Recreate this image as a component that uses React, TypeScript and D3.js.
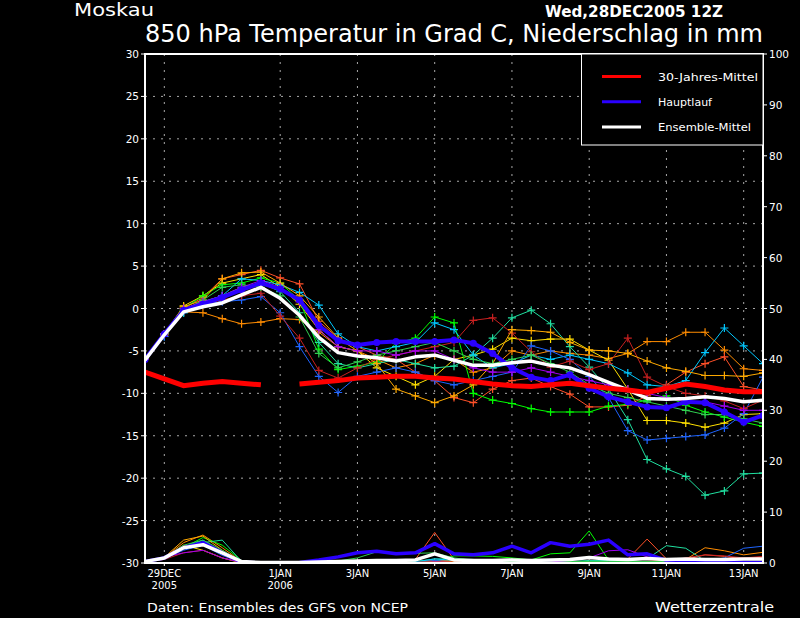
import React from 'react';
import * as d3 from 'd3';

// time steps: hours after 28DEC2005 12Z
const HOURS = [0, 12, 24, 36, 48, 60, 72, 84, 96, 108, 120, 132, 144, 156, 168, 180, 192, 204, 216, 228, 240, 252, 264, 276, 288, 300, 312, 324, 336, 348, 360, 372, 384];

const X_TICKS = [
  { h: 12, l1: '29DEC', l2: '2005' },
  { h: 84, l1: '1JAN', l2: '2006' },
  { h: 132, l1: '3JAN', l2: '' },
  { h: 180, l1: '5JAN', l2: '' },
  { h: 228, l1: '7JAN', l2: '' },
  { h: 276, l1: '9JAN', l2: '' },
  { h: 324, l1: '11JAN', l2: '' },
  { h: 372, l1: '13JAN', l2: '' },
];
const Y_TEMP_TICKS = [-30, -25, -20, -15, -10, -5, 0, 5, 10, 15, 20, 25, 30];
const Y_PREC_TICKS = [0, 10, 20, 30, 40, 50, 60, 70, 80, 90, 100];

// 30-year mean temperature (gap on 1 JAN)
const CLIM_T = [-7.5, -8.3, -9.1, -8.8, -8.6, -8.8, -9.0, null, -8.9, -8.7, -8.5, -8.2, -8.1, -8.0, -8.0, -8.2, -8.3, -8.6, -8.9, -9.1, -9.2, -9.0, -8.8, -9.1, -9.4, -9.6, -9.9, -9.4, -8.9, -9.2, -9.6, -9.8, -9.8];
// Hauptlauf (operational run)
const MAIN_T = [-6.0, -3.0, -0.2, 0.5, 1.3, 2.2, 3.0, 2.3, 1.0, -2.0, -3.8, -4.3, -4.0, -3.9, -3.9, -3.9, -3.7, -4.1, -5.3, -7.0, -8.1, -8.5, -7.8, -9.4, -10.4, -11.0, -11.6, -11.7, -11.0, -11.1, -12.2, -13.4, -12.6];
// Ensemble mean
const MEAN_T = [-6.1, -3.1, -0.4, 0.2, 0.65, 1.6, 2.5, 1.2, -0.8, -3.4, -5.2, -5.6, -5.8, -6.2, -5.7, -5.5, -6.1, -6.7, -6.7, -6.4, -6.2, -6.7, -7.0, -7.8, -8.7, -9.6, -10.6, -10.7, -10.6, -10.4, -10.6, -11.0, -10.8];

// ensemble members temperature
const T_M01 = [-6.0, -3.2, -0.4, -0.5, -1.2, -1.8, -1.6, -1.2, -1.3, -2.8, -4.5, -5.0, -6.0, -7.0, -6.5, -5.5, -6.0, -7.5, -7.0, -5.0, -5.5, -5.0, -5.3, -5.5, -5.9, -5.3, -3.9, -3.9, -2.8, -2.8, -4.9, -7.1, -7.3];
const T_M02 = [-6.0, -3.0, 0.0, 1.3, 3.5, 4.0, 4.5, 3.6, 2.9, -1.5, -3.5, -4.5, -5.5, -6.0, -7.5, -8.5, -10.5, -11.1, -9.5, -8.5, -8.2, -9.2, -10.1, -11.6, -11.6, -11.4, -10.3, -9.0, -7.5, -6.5, -5.7, -9.2, -9.6];
const T_M03 = [-6.0, -3.0, 0.3, 1.5, 3.0, 3.5, 4.0, 2.5, 0.5, -2.5, -4.5, -5.0, -7.0, -8.0, -9.0, -8.0, -6.0, -5.5, -4.8, -3.5, -3.8, -3.6, -3.6, -4.9, -6.1, -9.5, -13.2, -13.2, -13.5, -14.0, -13.5, -12.5, -12.4];
const T_M04 = [-6.0, -3.0, 0.0, 1.5, 2.8, 3.0, 3.6, 3.0, 1.0, -4.8, -7.2, -6.8, -6.3, -4.1, -3.5, -1.0, -1.7, -10.0, -10.8, -11.2, -11.8, -12.2, -12.2, -12.2, -11.5, -11.3, -10.8, -10.3, -11.4, -12.2, -12.8, -13.4, -13.9];
const T_M05 = [-6.0, -3.0, -0.5, 0.5, 1.5, 2.5, 3.0, 2.0, -0.5, -4.0, -6.5, -7.0, -6.5, -6.0, -6.5, -7.0, -6.8, -5.5, -3.5, -1.1, -0.2, -1.8, -4.5, -6.9, -9.5, -13.1, -17.8, -18.9, -19.8, -22.0, -21.5, -19.5, -19.4];
const T_M06 = [-6.0, -3.3, -0.5, 0.8, 1.5, 3.5, 3.3, 2.8, 1.9, 0.4, -3.0, -4.5, -5.0, -4.5, -4.0, -1.7, -2.5, -5.5, -7.0, -6.5, -5.5, -6.0, -5.5, -6.0, -6.5, -7.6, -9.0, -9.2, -8.5, -5.2, -2.3, -4.4, -6.5];
const T_M07 = [-6.0, -3.3, -0.3, 0.5, 0.8, 1.0, 1.4, -0.5, -4.5, -8.0, -9.9, -8.0, -7.5, -7.0, -7.5, -8.5, -9.0, -8.5, -8.0, -7.5, -4.4, -5.0, -6.0, -8.0, -10.5, -14.4, -15.5, -15.3, -15.1, -14.9, -14.1, -12.4, -8.1];
const T_M08 = [-6.0, -3.0, 0.0, 0.5, 1.0, 1.5, 1.8, -0.9, -3.5, -7.3, -8.2, -7.0, -6.0, -5.5, -5.0, -4.5, -4.0, -1.4, -1.1, -2.9, -5.1, -6.9, -6.2, -7.2, -6.5, -3.5, -8.1, -9.2, -10.0, -10.3, -10.9, -11.8, -10.8];
const T_M09 = [-6.0, -3.0, 0.2, 1.0, 3.5, 4.2, 4.3, 3.0, 1.5, -1.0, -3.5, -5.0, -6.5, -9.5, -10.3, -11.1, -10.3, -9.0, -6.5, -2.5, -2.6, -2.8, -4.0, -4.9, -5.0, -5.3, -6.2, -7.0, -7.4, -7.9, -7.9, -8.0, -7.6];
const T_M10 = [-6.0, -3.0, -0.2, 1.0, 2.5, 2.8, 2.5, 1.5, -1.0, -5.3, -7.0, -6.3, -5.5, -5.0, -4.5, -4.0, -5.0, -6.0, -6.5, -6.0, -5.5, -6.5, -7.5, -9.0, -10.0, -10.5, -11.0, -11.5, -12.0, -12.5, -12.5, -13.0, -13.5];
const T_M11 = [-6.0, -3.0, 0.0, 0.8, 1.5, 2.5, 3.3, 2.5, 0.8, -2.5, -4.5, -5.0, -5.0, -5.5, -5.0, -5.0, -6.0, -7.0, -7.5, -7.5, -7.0, -7.5, -8.0, -8.5, -9.0, -9.5, -10.0, -10.5, -11.0, -11.0, -11.5, -12.0, -12.0];

// precipitation (mm)
const MAIN_P = [0.3, 1.0, 3.0, 4.0, 2.0, 0.2, 0, 0, 0.1, 0.6, 1.2, 2.0, 2.3, 1.8, 2.0, 3.8, 1.8, 1.6, 2.0, 3.3, 2.0, 4.0, 3.3, 3.7, 4.5, 1.6, 1.8, 0.5, 0.2, 0.1, 0.1, 0.1, 0.1];
const MEAN_P = [0.3, 1.0, 3.0, 3.6, 2.0, 0.3, 0.1, 0.1, 0.1, 0.2, 0.3, 0.4, 0.5, 0.5, 0.6, 1.8, 0.6, 0.5, 0.5, 0.6, 0.5, 0.6, 0.7, 1.1, 0.8, 0.7, 0.9, 0.7, 0.8, 0.7, 0.7, 0.8, 0.8];
const P_M01 = [0.3, 1.0, 4.0, 5.5, 3.0, 0.3, 0, 0, 0, 0, 0, 0, 0.1, 0.2, 0.3, 0.5, 0.5, 0.6, 0.5, 0.3, 0.2, 0.2, 0.3, 0.2, 0.2, 0.3, 0.3, 0.5, 0.7, 3.0, 2.4, 1.6, 2.1];
const P_M02 = [0.2, 0.8, 3.0, 4.0, 2.0, 0.2, 0, 0, 0, 0, 0, 0, 0, 0, 0.7, 6.0, 0.7, 0.3, 0.3, 0.2, 0.2, 0.2, 0.3, 0.3, 0.5, 0.8, 4.7, 0.8, 0.7, 1.6, 1.3, 0.8, 1.2];
const P_M03 = [0.3, 1.0, 3.5, 2.5, 1.0, 0, 0, 0, 0, 0, 0, 0, 0, 0, 0, 0.2, 0.1, 0, 0, 0, 0, 0, 0.1, 0, 0, 0, 0, 0, 0.1, 0.2, 0.2, 0.1, 0.1];
const P_M04 = [0.3, 1.0, 3.0, 5.0, 3.5, 0.5, 0, 0, 0, 0, 0, 0, 0, 0, 0.1, 0.3, 1.4, 1.4, 1.3, 1.0, 0.6, 1.8, 2.0, 6.3, 0.6, 0.3, 0.3, 0.2, 0.2, 0.2, 0.2, 0.3, 0.3];
const P_M05 = [0.3, 0.8, 3.0, 4.0, 4.5, 0.3, 0, 0, 0, 0, 0, 0, 0, 0, 0.3, 0.8, 0.8, 0.7, 0.5, 0.4, 0.3, 0.3, 0.3, 0.5, 0.5, 0.5, 0.8, 3.4, 2.9, 0.4, 0.2, 0.2, 0.2];
const P_M06 = [0.3, 1.0, 3.0, 4.5, 2.0, 0.2, 0, 0, 0, 0, 0, 0, 0, 0, 0.2, 0.8, 0.5, 0.3, 0.3, 0.2, 0.3, 0.4, 0.6, 1.2, 0.8, 0.5, 1.0, 0.4, 0.2, 0.1, 0.1, 0.1, 0.1];
const P_M07 = [0.3, 0.9, 2.5, 3.5, 1.5, 0.1, 0, 0, 0, 0, 0, 0, 0, 0, 0.1, 0.5, 0.2, 0.1, 0.1, 0.1, 0.1, 0.2, 0.3, 0.3, 0.3, 0.2, 0.2, 0.2, 0.2, 0.4, 1.0, 2.9, 3.3];
const P_M08 = [0.2, 0.7, 2.0, 2.5, 1.0, 0.1, 0, 0, 0, 0, 0, 0, 0, 0.1, 0.1, 0.3, 0.3, 0.2, 0.2, 0.2, 0.2, 0.2, 0.2, 0.2, 0.2, 0.3, 0.3, 0.4, 1.0, 1.6, 1.4, 1.0, 1.3];
const P_M09 = [0.3, 1.1, 4.5, 5.3, 2.5, 0.2, 0, 0, 0, 0, 0, 0, 0, 0, 0.1, 0.2, 0.2, 0.1, 0.1, 0.1, 0.1, 0.1, 0.1, 0.1, 0.1, 0.1, 0.2, 0.2, 0.2, 0.2, 0.2, 0.2, 0.2];
const P_M10 = [0.3, 1.0, 3.5, 4.5, 2.5, 0.3, 0, 0, 0, 0, 0.4, 1.0, 2.2, 1.8, 1.9, 2.0, 1.0, 0.5, 0.4, 0.3, 0.3, 0.3, 0.3, 0.3, 0.3, 0.3, 0.3, 0.3, 0.3, 0.3, 0.3, 0.3, 0.3];
const P_M11 = [0.4, 1.2, 2.0, 2.5, 1.0, 0.1, 0, 0, 0, 0, 0, 0, 0, 0, 0, 0.2, 0.1, 0.1, 0.1, 0.1, 0.1, 0.2, 0.5, 1.0, 2.4, 2.6, 1.2, 0.4, 0.2, 0.1, 0.1, 0.1, 0.1];

const MEMBER_COLORS = ['#ff8c00', '#ff5028', '#ffe000', '#00ff00', '#20e0a0', '#00c8ff', '#1e64ff', '#c82020', '#ffaa00', '#30d050', '#a000f0'];
const MEMBER_T = [T_M01, T_M02, T_M03, T_M04, T_M05, T_M06, T_M07, T_M08, T_M09, T_M10, T_M11];
const MEMBER_P = [P_M01, P_M02, P_M03, P_M04, P_M05, P_M06, P_M07, P_M08, P_M09, P_M10, P_M11];

const LEGEND_LABELS = ['30-Jahres-Mittel', 'Hauptlauf', 'Ensemble-Mittel'];
const LEGEND_COLORS = ['#ff0000', '#2a00ff', '#ffffff'];

const FONT = '"DejaVu Sans", sans-serif';

export default function App() {
  const L = 145, R = 763, T = 54, B = 563;
  const x = d3.scaleLinear().domain([0, 384]).range([L, R]);
  const yT = d3.scaleLinear().domain([-30, 30]).range([B, T]);
  const yP = d3.scaleLinear().domain([0, 100]).range([B, T]);

  const lineT = d3.line<number | null>()
    .defined((d) => d != null)
    .x((_, i) => x(HOURS[i]))
    .y((d) => yT(d as number));
  const lineP = d3.line<number>()
    .x((_, i) => x(HOURS[i]))
    .y((d) => yP(d));

  const gridH = [-25, -20, -15, -10, -5, 0, 5, 10, 15, 20, 25];
  const legendLens = [100, 54, 93];

  return (
    <svg width={800} height={618} style={{ position: 'fixed', left: 0, top: 0, background: '#000' }} fontFamily={FONT}>
      <rect x={0} y={0} width={800} height={618} fill="#000" />
      <defs>
        <clipPath id="plot">
          <rect x={L} y={T} width={R - L} height={B - T} />
        </clipPath>
      </defs>

      {/* grid */}
      <g stroke="#a8a8a8" strokeWidth={1} strokeDasharray="2,6">
        {gridH.map((v) => (
          <line key={'h' + v} x1={L} x2={R} y1={yT(v)} y2={yT(v)} />
        ))}
        {X_TICKS.map((t) => (
          <line key={'v' + t.h} x1={x(t.h)} x2={x(t.h)} y1={T} y2={B} />
        ))}
      </g>

      <g clipPath="url(#plot)" fill="none" strokeLinejoin="round">
        {/* precipitation */}
        {MEMBER_P.map((p, k) => (
          <path key={'p' + k} d={lineP(p) || ''} stroke={MEMBER_COLORS[k]} strokeWidth={1} />
        ))}
        <path d={lineP(MAIN_P) || ''} stroke="#2a00ff" strokeWidth={3.5} />
        <path d={lineP(MEAN_P) || ''} stroke="#ffffff" strokeWidth={3.5} />

        {/* temperature members */}
        {MEMBER_T.map((s, k) => (
          <g key={'t' + k}>
            <path d={lineT(s) || ''} stroke={MEMBER_COLORS[k]} strokeWidth={1} />
            {s.map((v, i) =>
              v == null ? null : (
                <path
                  key={i}
                  d={`M${x(HOURS[i]) - 4},${yT(v)}h8M${x(HOURS[i])},${yT(v) - 4}v8`}
                  stroke={MEMBER_COLORS[k]}
                  strokeWidth={1.2}
                />
              )
            )}
          </g>
        ))}
        {/* Hauptlauf */}
        <path d={lineT(MAIN_T) || ''} stroke="#2a00ff" strokeWidth={4} />
        {MAIN_T.map((v, i) => (
          <circle key={'mc' + i} cx={x(HOURS[i])} cy={yT(v)} r={3.5} fill="#2a00ff" />
        ))}
        {/* ensemble mean */}
        <path d={lineT(MEAN_T) || ''} stroke="#ffffff" strokeWidth={3.5} />
        {/* 30-year mean */}
        <path d={lineT(CLIM_T) || ''} stroke="#ff0000" strokeWidth={5} strokeLinejoin="miter" />
      </g>

      {/* frame */}
      <rect x={L} y={T} width={R - L} height={B - T} fill="none" stroke="#fff" strokeWidth={2} />

      {/* left axis */}
      {Y_TEMP_TICKS.map((v) => (
        <g key={'yl' + v}>
          <line x1={L - 4} x2={L} y1={yT(v)} y2={yT(v)} stroke="#fff" strokeWidth={1} />
          <text x={L - 6} y={yT(v) + 4} fill="#fff" fontSize={10.5} textAnchor="end">{v}</text>
        </g>
      ))}
      {/* right axis */}
      {Y_PREC_TICKS.map((v) => (
        <g key={'yr' + v}>
          <line x1={R} x2={R + 4} y1={yP(v)} y2={yP(v)} stroke="#fff" strokeWidth={1} />
          <text x={R + 6} y={yP(v) + 4} fill="#fff" fontSize={10.5}>{v}</text>
        </g>
      ))}
      {/* x axis */}
      {X_TICKS.map((t) => (
        <g key={'xt' + t.h}>
          <line x1={x(t.h)} x2={x(t.h)} y1={B} y2={B + 3} stroke="#fff" strokeWidth={1} />
          <text x={x(t.h)} y={577} fill="#fff" fontSize={10} textAnchor="middle">{t.l1}</text>
          {t.l2 && (
            <text x={x(t.h)} y={589} fill="#fff" fontSize={10} textAnchor="middle">{t.l2}</text>
          )}
        </g>
      ))}

      {/* legend */}
      <rect x={581.5} y={T} width={R - 581.5} height={91} fill="#000" stroke="#fff" strokeWidth={1} />
      {LEGEND_LABELS.map((lab, k) => (
        <g key={'lg' + k}>
          <line x1={602} x2={641} y1={76.5 + k * 25.3} y2={76.5 + k * 25.3} stroke={LEGEND_COLORS[k]} strokeWidth={3} />
          <text x={658} y={80.5 + k * 25.3} fill="#fff" fontSize={11} textLength={legendLens[k]} lengthAdjust="spacingAndGlyphs">{lab}</text>
        </g>
      ))}

      {/* titles */}
      <text x={74} y={16} fill="#fff" fontSize={17} textLength={80} lengthAdjust="spacingAndGlyphs">Moskau</text>
      <text x={545} y={17} fill="#fff" fontSize={15} fontWeight="bold" textLength={178} lengthAdjust="spacingAndGlyphs">Wed,28DEC2005 12Z</text>
      <text x={145} y={42} fill="#fff" fontSize={24} textLength={618} lengthAdjust="spacingAndGlyphs">850 hPa Temperatur in Grad C, Niederschlag in mm</text>
      <text x={147} y={612} fill="#fff" fontSize={12.5} textLength={261} lengthAdjust="spacingAndGlyphs">Daten: Ensembles des GFS von NCEP</text>
      <text x={655} y={612} fill="#fff" fontSize={14.5} textLength={119} lengthAdjust="spacingAndGlyphs">Wetterzentrale</text>
    </svg>
  );
}
